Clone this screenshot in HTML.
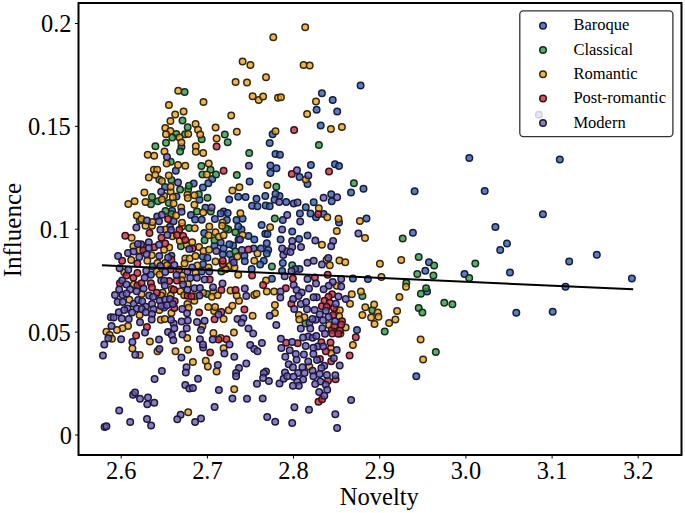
<!DOCTYPE html>
<html><head><meta charset="utf-8"><style>
html,body{margin:0;padding:0;background:#fff;}
svg{display:block;font-family:"Liberation Serif",serif;}
.B{fill:#375CAE;fill-opacity:0.8;stroke:#141e3c;}
.C{fill:#37954A;fill-opacity:0.8;stroke:#142d19;}
.R{fill:#E6A42B;fill-opacity:0.8;stroke:#37280a;}
.P{fill:#C03144;fill-opacity:0.8;stroke:#370f14;}
.M{fill:#695CB4;fill-opacity:0.8;stroke:#1e193c;}
</style></head><body>
<svg width="685" height="513" viewBox="0 0 685 513">
<rect width="685" height="513" fill="#fff"/>
<g stroke-width="1.5">
<circle class="B" cx="181.4" cy="146.9" r="3.25"/>
<circle class="B" cx="272.6" cy="134.2" r="3.25"/>
<circle class="B" cx="269.7" cy="143.0" r="3.25"/>
<circle class="B" cx="360.6" cy="85.5" r="3.25"/>
<circle class="B" cx="321.9" cy="93.3" r="3.25"/>
<circle class="B" cx="332.7" cy="99.9" r="3.25"/>
<circle class="B" cx="316.6" cy="109.8" r="3.25"/>
<circle class="B" cx="337.2" cy="111.5" r="3.25"/>
<circle class="B" cx="320.7" cy="125.4" r="3.25"/>
<circle class="B" cx="275.5" cy="154.1" r="3.25"/>
<circle class="B" cx="279.9" cy="154.7" r="3.25"/>
<circle class="B" cx="270.4" cy="165.4" r="3.25"/>
<circle class="B" cx="276.5" cy="168.3" r="3.25"/>
<circle class="B" cx="270.4" cy="173.1" r="3.25"/>
<circle class="B" cx="212.2" cy="178.9" r="3.25"/>
<circle class="B" cx="208.3" cy="183.3" r="3.25"/>
<circle class="B" cx="202.9" cy="187.6" r="3.25"/>
<circle class="B" cx="193.7" cy="183.6" r="3.25"/>
<circle class="B" cx="249.6" cy="181.4" r="3.25"/>
<circle class="B" cx="229.2" cy="199.4" r="3.25"/>
<circle class="B" cx="238.2" cy="196.8" r="3.25"/>
<circle class="B" cx="245.6" cy="197.1" r="3.25"/>
<circle class="B" cx="256.5" cy="198.7" r="3.25"/>
<circle class="B" cx="265.3" cy="196.1" r="3.25"/>
<circle class="B" cx="279.5" cy="196.1" r="3.25"/>
<circle class="B" cx="275.5" cy="193.9" r="3.25"/>
<circle class="B" cx="274.5" cy="199.7" r="3.25"/>
<circle class="B" cx="286.2" cy="201.9" r="3.25"/>
<circle class="B" cx="199.5" cy="199.7" r="3.25"/>
<circle class="B" cx="205.4" cy="207.7" r="3.25"/>
<circle class="B" cx="190.9" cy="214.9" r="3.25"/>
<circle class="B" cx="195.1" cy="219.4" r="3.25"/>
<circle class="B" cx="201.7" cy="219.7" r="3.25"/>
<circle class="B" cx="223.6" cy="211.4" r="3.25"/>
<circle class="B" cx="220.7" cy="213.6" r="3.25"/>
<circle class="B" cx="227.7" cy="212.9" r="3.25"/>
<circle class="B" cx="252.1" cy="205.8" r="3.25"/>
<circle class="B" cx="257.5" cy="206.3" r="3.25"/>
<circle class="B" cx="265.7" cy="205.6" r="3.25"/>
<circle class="B" cx="269.7" cy="206.3" r="3.25"/>
<circle class="B" cx="214.9" cy="219.0" r="3.25"/>
<circle class="B" cx="226.8" cy="219.9" r="3.25"/>
<circle class="B" cx="236.5" cy="219.9" r="3.25"/>
<circle class="B" cx="242.6" cy="218.7" r="3.25"/>
<circle class="B" cx="282.8" cy="219.9" r="3.25"/>
<circle class="B" cx="261.6" cy="225.1" r="3.25"/>
<circle class="B" cx="310.9" cy="165.1" r="3.25"/>
<circle class="B" cx="335.0" cy="164.2" r="3.25"/>
<circle class="B" cx="339.0" cy="166.1" r="3.25"/>
<circle class="B" cx="299.5" cy="177.0" r="3.25"/>
<circle class="B" cx="307.5" cy="183.9" r="3.25"/>
<circle class="B" cx="351.0" cy="192.4" r="3.25"/>
<circle class="B" cx="363.5" cy="188.7" r="3.25"/>
<circle class="B" cx="331.2" cy="194.2" r="3.25"/>
<circle class="B" cx="331.7" cy="201.2" r="3.25"/>
<circle class="B" cx="293.7" cy="203.4" r="3.25"/>
<circle class="B" cx="313.7" cy="202.2" r="3.25"/>
<circle class="B" cx="305.8" cy="207.3" r="3.25"/>
<circle class="B" cx="299.9" cy="213.6" r="3.25"/>
<circle class="B" cx="310.5" cy="213.6" r="3.25"/>
<circle class="B" cx="316.0" cy="217.3" r="3.25"/>
<circle class="B" cx="323.6" cy="214.0" r="3.25"/>
<circle class="B" cx="339.0" cy="222.4" r="3.25"/>
<circle class="B" cx="366.5" cy="218.4" r="3.25"/>
<circle class="B" cx="241.5" cy="229.4" r="3.25"/>
<circle class="B" cx="248.5" cy="236.0" r="3.25"/>
<circle class="B" cx="254.3" cy="239.6" r="3.25"/>
<circle class="B" cx="265.3" cy="233.8" r="3.25"/>
<circle class="B" cx="267.5" cy="234.1" r="3.25"/>
<circle class="B" cx="280.6" cy="239.6" r="3.25"/>
<circle class="B" cx="244.4" cy="255.7" r="3.25"/>
<circle class="B" cx="253.6" cy="248.4" r="3.25"/>
<circle class="B" cx="260.9" cy="248.4" r="3.25"/>
<circle class="B" cx="266.8" cy="243.3" r="3.25"/>
<circle class="B" cx="268.2" cy="249.9" r="3.25"/>
<circle class="B" cx="266.8" cy="253.5" r="3.25"/>
<circle class="B" cx="244.8" cy="261.3" r="3.25"/>
<circle class="B" cx="263.8" cy="260.8" r="3.25"/>
<circle class="B" cx="260.2" cy="264.5" r="3.25"/>
<circle class="B" cx="282.8" cy="263.0" r="3.25"/>
<circle class="B" cx="251.7" cy="268.9" r="3.25"/>
<circle class="B" cx="282.1" cy="271.1" r="3.25"/>
<circle class="B" cx="271.9" cy="278.8" r="3.25"/>
<circle class="B" cx="292.2" cy="231.6" r="3.25"/>
<circle class="B" cx="299.1" cy="238.9" r="3.25"/>
<circle class="B" cx="307.5" cy="235.5" r="3.25"/>
<circle class="B" cx="299.5" cy="268.9" r="3.25"/>
<circle class="B" cx="352.9" cy="278.4" r="3.25"/>
<circle class="B" cx="367.9" cy="279.1" r="3.25"/>
<circle class="B" cx="469.3" cy="158.0" r="3.25"/>
<circle class="B" cx="414.6" cy="191.3" r="3.25"/>
<circle class="B" cx="484.7" cy="190.9" r="3.25"/>
<circle class="B" cx="412.9" cy="232.7" r="3.25"/>
<circle class="B" cx="429.0" cy="262.3" r="3.25"/>
<circle class="B" cx="425.3" cy="270.7" r="3.25"/>
<circle class="B" cx="464.5" cy="274.0" r="3.25"/>
<circle class="B" cx="427.1" cy="291.6" r="3.25"/>
<circle class="B" cx="416.3" cy="376.3" r="3.25"/>
<circle class="B" cx="542.9" cy="214.3" r="3.25"/>
<circle class="B" cx="495.4" cy="227.0" r="3.25"/>
<circle class="B" cx="507.0" cy="243.6" r="3.25"/>
<circle class="B" cx="500.2" cy="250.1" r="3.25"/>
<circle class="B" cx="569.2" cy="261.4" r="3.25"/>
<circle class="B" cx="510.0" cy="272.4" r="3.25"/>
<circle class="B" cx="565.5" cy="286.7" r="3.25"/>
<circle class="B" cx="516.3" cy="312.7" r="3.25"/>
<circle class="B" cx="552.7" cy="311.8" r="3.25"/>
<circle class="B" cx="559.8" cy="159.6" r="3.25"/>
<circle class="B" cx="596.8" cy="254.7" r="3.25"/>
<circle class="B" cx="631.9" cy="278.4" r="3.25"/>
<circle class="B" cx="169.9" cy="226.8" r="3.25"/>
<circle class="B" cx="171.4" cy="255.7" r="3.25"/>
<circle class="B" cx="152.8" cy="266.4" r="3.25"/>
<circle class="B" cx="150.9" cy="274.8" r="3.25"/>
<circle class="B" cx="165.0" cy="187.1" r="3.25"/>
<circle class="B" cx="176.5" cy="196.5" r="3.25"/>
<circle class="B" cx="157.2" cy="216.6" r="3.25"/>
<circle class="B" cx="172.1" cy="210.7" r="3.25"/>
<circle class="B" cx="173.6" cy="221.3" r="3.25"/>
<circle class="B" cx="175.8" cy="170.8" r="3.25"/>
<circle class="B" cx="357.0" cy="330.0" r="3.25"/>
<circle class="B" cx="203.1" cy="264.2" r="3.25"/>
<circle class="B" cx="201.7" cy="271.5" r="3.25"/>
<circle class="B" cx="238.2" cy="226.5" r="3.25"/>
<circle class="B" cx="204.2" cy="233.0" r="3.25"/>
<circle class="B" cx="220.7" cy="242.5" r="3.25"/>
<circle class="B" cx="233.1" cy="245.4" r="3.25"/>
<circle class="B" cx="229.4" cy="244.3" r="3.25"/>
<circle class="B" cx="238.5" cy="239.6" r="3.25"/>
<circle class="B" cx="214.5" cy="245.8" r="3.25"/>
<circle class="B" cx="222.8" cy="254.2" r="3.25"/>
<circle class="B" cx="223.6" cy="248.4" r="3.25"/>
<circle class="B" cx="229.8" cy="254.2" r="3.25"/>
<circle class="B" cx="202.8" cy="256.4" r="3.25"/>
<circle class="B" cx="207.5" cy="257.8" r="3.25"/>
<circle class="B" cx="232.3" cy="260.0" r="3.25"/>
<circle class="C" cx="184.6" cy="92.1" r="3.25"/>
<circle class="C" cx="182.5" cy="120.6" r="3.25"/>
<circle class="C" cx="187.7" cy="127.3" r="3.25"/>
<circle class="C" cx="176.3" cy="133.9" r="3.25"/>
<circle class="C" cx="172.3" cy="137.6" r="3.25"/>
<circle class="C" cx="185.0" cy="134.2" r="3.25"/>
<circle class="C" cx="166.0" cy="142.7" r="3.25"/>
<circle class="C" cx="155.4" cy="146.2" r="3.25"/>
<circle class="C" cx="201.7" cy="139.3" r="3.25"/>
<circle class="C" cx="224.8" cy="134.6" r="3.25"/>
<circle class="C" cx="227.7" cy="142.3" r="3.25"/>
<circle class="C" cx="318.9" cy="144.9" r="3.25"/>
<circle class="C" cx="249.2" cy="152.9" r="3.25"/>
<circle class="C" cx="201.4" cy="166.1" r="3.25"/>
<circle class="C" cx="210.5" cy="169.7" r="3.25"/>
<circle class="C" cx="202.4" cy="174.6" r="3.25"/>
<circle class="C" cx="216.0" cy="174.6" r="3.25"/>
<circle class="C" cx="236.8" cy="174.9" r="3.25"/>
<circle class="C" cx="276.3" cy="186.8" r="3.25"/>
<circle class="C" cx="198.8" cy="194.2" r="3.25"/>
<circle class="C" cx="207.5" cy="197.8" r="3.25"/>
<circle class="C" cx="210.8" cy="211.4" r="3.25"/>
<circle class="C" cx="197.0" cy="211.4" r="3.25"/>
<circle class="C" cx="274.8" cy="218.4" r="3.25"/>
<circle class="C" cx="353.9" cy="183.2" r="3.25"/>
<circle class="C" cx="271.9" cy="266.4" r="3.25"/>
<circle class="C" cx="292.2" cy="265.2" r="3.25"/>
<circle class="C" cx="384.7" cy="331.4" r="3.25"/>
<circle class="C" cx="372.3" cy="310.2" r="3.25"/>
<circle class="C" cx="402.7" cy="238.5" r="3.25"/>
<circle class="C" cx="418.7" cy="257.1" r="3.25"/>
<circle class="C" cx="434.1" cy="265.6" r="3.25"/>
<circle class="C" cx="417.3" cy="273.9" r="3.25"/>
<circle class="C" cx="433.4" cy="275.5" r="3.25"/>
<circle class="C" cx="469.2" cy="278.0" r="3.25"/>
<circle class="C" cx="475.3" cy="263.4" r="3.25"/>
<circle class="C" cx="406.3" cy="283.1" r="3.25"/>
<circle class="C" cx="426.1" cy="288.2" r="3.25"/>
<circle class="C" cx="420.9" cy="293.8" r="3.25"/>
<circle class="C" cx="444.3" cy="302.8" r="3.25"/>
<circle class="C" cx="452.4" cy="304.3" r="3.25"/>
<circle class="C" cx="418.7" cy="308.1" r="3.25"/>
<circle class="C" cx="422.4" cy="312.5" r="3.25"/>
<circle class="C" cx="435.8" cy="352.0" r="3.25"/>
<circle class="C" cx="189.1" cy="227.9" r="3.25"/>
<circle class="C" cx="180.9" cy="246.2" r="3.25"/>
<circle class="C" cx="152.0" cy="196.9" r="3.25"/>
<circle class="C" cx="150.9" cy="204.2" r="3.25"/>
<circle class="C" cx="157.9" cy="201.2" r="3.25"/>
<circle class="C" cx="168.8" cy="203.1" r="3.25"/>
<circle class="C" cx="180.1" cy="189.6" r="3.25"/>
<circle class="C" cx="188.2" cy="189.2" r="3.25"/>
<circle class="C" cx="165.5" cy="211.1" r="3.25"/>
<circle class="C" cx="171.4" cy="214.0" r="3.25"/>
<circle class="C" cx="139.6" cy="220.6" r="3.25"/>
<circle class="C" cx="170.7" cy="161.7" r="3.25"/>
<circle class="C" cx="180.1" cy="151.5" r="3.25"/>
<circle class="C" cx="159.3" cy="179.6" r="3.25"/>
<circle class="C" cx="171.4" cy="179.9" r="3.25"/>
<circle class="C" cx="188.9" cy="185.8" r="3.25"/>
<circle class="C" cx="362.4" cy="296.1" r="3.25"/>
<circle class="C" cx="305.5" cy="323.5" r="3.25"/>
<circle class="C" cx="221.4" cy="271.5" r="3.25"/>
<circle class="C" cx="207.2" cy="294.1" r="3.25"/>
<circle class="C" cx="228.3" cy="229.4" r="3.25"/>
<circle class="C" cx="225.8" cy="228.3" r="3.25"/>
<circle class="C" cx="235.3" cy="232.3" r="3.25"/>
<circle class="C" cx="204.6" cy="240.3" r="3.25"/>
<circle class="C" cx="214.5" cy="240.3" r="3.25"/>
<circle class="C" cx="235.3" cy="251.6" r="3.25"/>
<circle class="R" cx="273.3" cy="37.3" r="3.25"/>
<circle class="R" cx="242.6" cy="61.4" r="3.25"/>
<circle class="R" cx="250.4" cy="65.1" r="3.25"/>
<circle class="R" cx="305.2" cy="27.3" r="3.25"/>
<circle class="R" cx="303.6" cy="65.1" r="3.25"/>
<circle class="R" cx="309.7" cy="65.5" r="3.25"/>
<circle class="R" cx="178.2" cy="90.8" r="3.25"/>
<circle class="R" cx="168.9" cy="105.0" r="3.25"/>
<circle class="R" cx="183.6" cy="111.5" r="3.25"/>
<circle class="R" cx="175.2" cy="114.5" r="3.25"/>
<circle class="R" cx="170.4" cy="121.1" r="3.25"/>
<circle class="R" cx="165.3" cy="127.9" r="3.25"/>
<circle class="R" cx="170.4" cy="131.0" r="3.25"/>
<circle class="R" cx="166.0" cy="134.2" r="3.25"/>
<circle class="R" cx="179.5" cy="137.6" r="3.25"/>
<circle class="R" cx="188.2" cy="133.9" r="3.25"/>
<circle class="R" cx="181.4" cy="142.5" r="3.25"/>
<circle class="R" cx="266.0" cy="77.2" r="3.25"/>
<circle class="R" cx="235.6" cy="82.0" r="3.25"/>
<circle class="R" cx="247.0" cy="82.6" r="3.25"/>
<circle class="R" cx="203.5" cy="102.0" r="3.25"/>
<circle class="R" cx="252.6" cy="96.2" r="3.25"/>
<circle class="R" cx="258.7" cy="99.9" r="3.25"/>
<circle class="R" cx="263.1" cy="96.6" r="3.25"/>
<circle class="R" cx="278.0" cy="97.7" r="3.25"/>
<circle class="R" cx="280.9" cy="97.2" r="3.25"/>
<circle class="R" cx="231.2" cy="115.5" r="3.25"/>
<circle class="R" cx="195.6" cy="124.0" r="3.25"/>
<circle class="R" cx="198.0" cy="129.8" r="3.25"/>
<circle class="R" cx="200.2" cy="134.6" r="3.25"/>
<circle class="R" cx="215.6" cy="127.6" r="3.25"/>
<circle class="R" cx="236.8" cy="131.7" r="3.25"/>
<circle class="R" cx="216.6" cy="138.6" r="3.25"/>
<circle class="R" cx="195.8" cy="146.3" r="3.25"/>
<circle class="R" cx="275.5" cy="131.3" r="3.25"/>
<circle class="R" cx="316.0" cy="101.6" r="3.25"/>
<circle class="R" cx="307.1" cy="114.0" r="3.25"/>
<circle class="R" cx="330.9" cy="129.1" r="3.25"/>
<circle class="R" cx="341.9" cy="126.9" r="3.25"/>
<circle class="R" cx="134.6" cy="201.2" r="3.25"/>
<circle class="R" cx="128.3" cy="204.1" r="3.25"/>
<circle class="R" cx="136.8" cy="215.5" r="3.25"/>
<circle class="R" cx="195.8" cy="151.8" r="3.25"/>
<circle class="R" cx="203.2" cy="152.9" r="3.25"/>
<circle class="R" cx="208.7" cy="163.6" r="3.25"/>
<circle class="R" cx="206.8" cy="174.6" r="3.25"/>
<circle class="R" cx="267.5" cy="185.1" r="3.25"/>
<circle class="R" cx="232.4" cy="190.6" r="3.25"/>
<circle class="R" cx="239.4" cy="187.3" r="3.25"/>
<circle class="R" cx="194.4" cy="195.3" r="3.25"/>
<circle class="R" cx="194.4" cy="204.8" r="3.25"/>
<circle class="R" cx="203.2" cy="212.6" r="3.25"/>
<circle class="R" cx="240.4" cy="213.2" r="3.25"/>
<circle class="R" cx="222.5" cy="222.4" r="3.25"/>
<circle class="R" cx="305.8" cy="179.5" r="3.25"/>
<circle class="R" cx="318.8" cy="208.2" r="3.25"/>
<circle class="R" cx="327.3" cy="217.3" r="3.25"/>
<circle class="R" cx="338.5" cy="218.7" r="3.25"/>
<circle class="R" cx="359.9" cy="220.9" r="3.25"/>
<circle class="R" cx="242.6" cy="234.9" r="3.25"/>
<circle class="R" cx="270.1" cy="227.2" r="3.25"/>
<circle class="R" cx="257.5" cy="253.5" r="3.25"/>
<circle class="R" cx="254.3" cy="260.8" r="3.25"/>
<circle class="R" cx="266.0" cy="280.6" r="3.25"/>
<circle class="R" cx="266.8" cy="291.5" r="3.25"/>
<circle class="R" cx="274.1" cy="291.5" r="3.25"/>
<circle class="R" cx="254.3" cy="294.9" r="3.25"/>
<circle class="R" cx="256.5" cy="293.7" r="3.25"/>
<circle class="R" cx="321.9" cy="244.7" r="3.25"/>
<circle class="R" cx="336.8" cy="231.1" r="3.25"/>
<circle class="R" cx="365.0" cy="237.9" r="3.25"/>
<circle class="R" cx="326.5" cy="260.1" r="3.25"/>
<circle class="R" cx="329.8" cy="265.2" r="3.25"/>
<circle class="R" cx="339.4" cy="260.5" r="3.25"/>
<circle class="R" cx="345.3" cy="262.3" r="3.25"/>
<circle class="R" cx="379.9" cy="263.7" r="3.25"/>
<circle class="R" cx="381.4" cy="276.9" r="3.25"/>
<circle class="R" cx="336.8" cy="285.7" r="3.25"/>
<circle class="R" cx="351.8" cy="294.2" r="3.25"/>
<circle class="R" cx="360.9" cy="291.5" r="3.25"/>
<circle class="R" cx="106.4" cy="331.8" r="3.25"/>
<circle class="R" cx="109.7" cy="335.1" r="3.25"/>
<circle class="R" cx="111.9" cy="338.7" r="3.25"/>
<circle class="R" cx="132.4" cy="348.5" r="3.25"/>
<circle class="R" cx="139.7" cy="355.1" r="3.25"/>
<circle class="R" cx="149.9" cy="341.4" r="3.25"/>
<circle class="R" cx="187.2" cy="338.0" r="3.25"/>
<circle class="R" cx="157.5" cy="351.2" r="3.25"/>
<circle class="R" cx="175.5" cy="351.2" r="3.25"/>
<circle class="R" cx="188.0" cy="349.7" r="3.25"/>
<circle class="R" cx="194.4" cy="300.7" r="3.25"/>
<circle class="R" cx="208.3" cy="307.0" r="3.25"/>
<circle class="R" cx="214.1" cy="311.0" r="3.25"/>
<circle class="R" cx="215.1" cy="307.0" r="3.25"/>
<circle class="R" cx="223.6" cy="319.0" r="3.25"/>
<circle class="R" cx="228.7" cy="310.2" r="3.25"/>
<circle class="R" cx="232.4" cy="305.8" r="3.25"/>
<circle class="R" cx="239.0" cy="300.7" r="3.25"/>
<circle class="R" cx="252.6" cy="315.8" r="3.25"/>
<circle class="R" cx="202.4" cy="326.3" r="3.25"/>
<circle class="R" cx="213.4" cy="332.9" r="3.25"/>
<circle class="R" cx="220.7" cy="338.0" r="3.25"/>
<circle class="R" cx="233.9" cy="332.5" r="3.25"/>
<circle class="R" cx="223.6" cy="348.2" r="3.25"/>
<circle class="R" cx="205.8" cy="360.7" r="3.25"/>
<circle class="R" cx="207.8" cy="366.5" r="3.25"/>
<circle class="R" cx="216.6" cy="371.6" r="3.25"/>
<circle class="R" cx="192.9" cy="362.1" r="3.25"/>
<circle class="R" cx="340.4" cy="333.6" r="3.25"/>
<circle class="R" cx="352.9" cy="345.0" r="3.25"/>
<circle class="R" cx="389.1" cy="323.1" r="3.25"/>
<circle class="R" cx="365.3" cy="307.3" r="3.25"/>
<circle class="R" cx="374.1" cy="304.4" r="3.25"/>
<circle class="R" cx="377.7" cy="312.4" r="3.25"/>
<circle class="R" cx="371.1" cy="317.5" r="3.25"/>
<circle class="R" cx="378.5" cy="316.8" r="3.25"/>
<circle class="R" cx="374.5" cy="324.1" r="3.25"/>
<circle class="R" cx="188.2" cy="412.3" r="3.25"/>
<circle class="R" cx="234.2" cy="389.3" r="3.25"/>
<circle class="R" cx="401.2" cy="260.0" r="3.25"/>
<circle class="R" cx="406.0" cy="286.8" r="3.25"/>
<circle class="R" cx="399.4" cy="297.0" r="3.25"/>
<circle class="R" cx="397.1" cy="311.0" r="3.25"/>
<circle class="R" cx="395.4" cy="319.4" r="3.25"/>
<circle class="R" cx="420.6" cy="339.4" r="3.25"/>
<circle class="R" cx="423.1" cy="359.6" r="3.25"/>
<circle class="R" cx="145.5" cy="225.7" r="3.25"/>
<circle class="R" cx="152.0" cy="225.7" r="3.25"/>
<circle class="R" cx="165.5" cy="229.4" r="3.25"/>
<circle class="R" cx="172.5" cy="236.3" r="3.25"/>
<circle class="R" cx="182.0" cy="226.5" r="3.25"/>
<circle class="R" cx="179.8" cy="240.7" r="3.25"/>
<circle class="R" cx="186.7" cy="244.7" r="3.25"/>
<circle class="R" cx="142.9" cy="246.2" r="3.25"/>
<circle class="R" cx="169.2" cy="247.6" r="3.25"/>
<circle class="R" cx="164.1" cy="249.8" r="3.25"/>
<circle class="R" cx="151.7" cy="255.3" r="3.25"/>
<circle class="R" cx="147.3" cy="260.8" r="3.25"/>
<circle class="R" cx="185.3" cy="258.6" r="3.25"/>
<circle class="R" cx="189.6" cy="258.6" r="3.25"/>
<circle class="R" cx="131.6" cy="237.8" r="3.25"/>
<circle class="R" cx="133.4" cy="246.2" r="3.25"/>
<circle class="R" cx="131.2" cy="259.9" r="3.25"/>
<circle class="R" cx="139.3" cy="250.2" r="3.25"/>
<circle class="R" cx="124.3" cy="272.2" r="3.25"/>
<circle class="R" cx="133.8" cy="284.6" r="3.25"/>
<circle class="R" cx="157.5" cy="263.1" r="3.25"/>
<circle class="R" cx="165.2" cy="263.1" r="3.25"/>
<circle class="R" cx="167.0" cy="265.3" r="3.25"/>
<circle class="R" cx="184.5" cy="263.5" r="3.25"/>
<circle class="R" cx="156.8" cy="271.5" r="3.25"/>
<circle class="R" cx="159.7" cy="274.4" r="3.25"/>
<circle class="R" cx="182.3" cy="275.5" r="3.25"/>
<circle class="R" cx="181.6" cy="280.2" r="3.25"/>
<circle class="R" cx="187.8" cy="283.9" r="3.25"/>
<circle class="R" cx="141.5" cy="294.1" r="3.25"/>
<circle class="R" cx="162.6" cy="292.7" r="3.25"/>
<circle class="R" cx="171.8" cy="289.0" r="3.25"/>
<circle class="R" cx="180.5" cy="291.2" r="3.25"/>
<circle class="R" cx="184.2" cy="295.3" r="3.25"/>
<circle class="R" cx="144.4" cy="192.5" r="3.25"/>
<circle class="R" cx="145.5" cy="202.0" r="3.25"/>
<circle class="R" cx="164.1" cy="196.1" r="3.25"/>
<circle class="R" cx="161.9" cy="199.4" r="3.25"/>
<circle class="R" cx="170.7" cy="191.4" r="3.25"/>
<circle class="R" cx="170.7" cy="186.7" r="3.25"/>
<circle class="R" cx="172.8" cy="197.2" r="3.25"/>
<circle class="R" cx="173.6" cy="203.4" r="3.25"/>
<circle class="R" cx="187.4" cy="194.7" r="3.25"/>
<circle class="R" cx="187.8" cy="197.9" r="3.25"/>
<circle class="R" cx="176.1" cy="215.5" r="3.25"/>
<circle class="R" cx="181.2" cy="207.4" r="3.25"/>
<circle class="R" cx="152.4" cy="222.0" r="3.25"/>
<circle class="R" cx="141.5" cy="219.1" r="3.25"/>
<circle class="R" cx="182.0" cy="222.8" r="3.25"/>
<circle class="R" cx="147.7" cy="154.7" r="3.25"/>
<circle class="R" cx="154.2" cy="155.8" r="3.25"/>
<circle class="R" cx="164.5" cy="151.5" r="3.25"/>
<circle class="R" cx="166.6" cy="163.5" r="3.25"/>
<circle class="R" cx="178.0" cy="165.0" r="3.25"/>
<circle class="R" cx="185.3" cy="165.7" r="3.25"/>
<circle class="R" cx="153.9" cy="169.7" r="3.25"/>
<circle class="R" cx="157.2" cy="169.7" r="3.25"/>
<circle class="R" cx="155.3" cy="174.8" r="3.25"/>
<circle class="R" cx="148.8" cy="177.4" r="3.25"/>
<circle class="R" cx="168.8" cy="175.5" r="3.25"/>
<circle class="R" cx="161.9" cy="181.0" r="3.25"/>
<circle class="R" cx="350.0" cy="303.8" r="3.25"/>
<circle class="R" cx="336.2" cy="311.4" r="3.25"/>
<circle class="R" cx="339.8" cy="310.3" r="3.25"/>
<circle class="R" cx="362.4" cy="315.1" r="3.25"/>
<circle class="R" cx="339.1" cy="316.2" r="3.25"/>
<circle class="R" cx="329.2" cy="324.9" r="3.25"/>
<circle class="R" cx="345.7" cy="327.5" r="3.25"/>
<circle class="R" cx="330.9" cy="348.4" r="3.25"/>
<circle class="R" cx="331.2" cy="353.2" r="3.25"/>
<circle class="R" cx="274.9" cy="304.9" r="3.25"/>
<circle class="R" cx="274.9" cy="312.9" r="3.25"/>
<circle class="R" cx="298.9" cy="315.1" r="3.25"/>
<circle class="R" cx="304.4" cy="317.3" r="3.25"/>
<circle class="R" cx="299.3" cy="319.5" r="3.25"/>
<circle class="R" cx="129.4" cy="299.7" r="3.25"/>
<circle class="R" cx="139.6" cy="314.9" r="3.25"/>
<circle class="R" cx="128.0" cy="326.0" r="3.25"/>
<circle class="R" cx="122.5" cy="328.2" r="3.25"/>
<circle class="R" cx="117.0" cy="330.0" r="3.25"/>
<circle class="R" cx="161.2" cy="295.4" r="3.25"/>
<circle class="R" cx="170.7" cy="295.4" r="3.25"/>
<circle class="R" cx="159.3" cy="310.0" r="3.25"/>
<circle class="R" cx="171.4" cy="312.9" r="3.25"/>
<circle class="R" cx="160.8" cy="319.8" r="3.25"/>
<circle class="R" cx="164.8" cy="319.1" r="3.25"/>
<circle class="R" cx="187.4" cy="304.1" r="3.25"/>
<circle class="R" cx="188.5" cy="307.8" r="3.25"/>
<circle class="R" cx="309.3" cy="366.5" r="3.25"/>
<circle class="R" cx="197.3" cy="265.6" r="3.25"/>
<circle class="R" cx="208.6" cy="267.5" r="3.25"/>
<circle class="R" cx="195.5" cy="272.6" r="3.25"/>
<circle class="R" cx="215.5" cy="261.4" r="3.25"/>
<circle class="R" cx="229.8" cy="266.0" r="3.25"/>
<circle class="R" cx="234.5" cy="267.5" r="3.25"/>
<circle class="R" cx="225.8" cy="269.3" r="3.25"/>
<circle class="R" cx="238.2" cy="274.8" r="3.25"/>
<circle class="R" cx="213.4" cy="291.9" r="3.25"/>
<circle class="R" cx="203.1" cy="292.7" r="3.25"/>
<circle class="R" cx="194.4" cy="296.3" r="3.25"/>
<circle class="R" cx="211.9" cy="296.7" r="3.25"/>
<circle class="R" cx="217.7" cy="295.2" r="3.25"/>
<circle class="R" cx="230.5" cy="290.5" r="3.25"/>
<circle class="R" cx="236.7" cy="295.6" r="3.25"/>
<circle class="R" cx="194.7" cy="228.3" r="3.25"/>
<circle class="R" cx="209.3" cy="226.5" r="3.25"/>
<circle class="R" cx="222.1" cy="225.7" r="3.25"/>
<circle class="R" cx="208.6" cy="235.2" r="3.25"/>
<circle class="R" cx="215.5" cy="232.3" r="3.25"/>
<circle class="R" cx="218.8" cy="236.7" r="3.25"/>
<circle class="R" cx="223.6" cy="235.2" r="3.25"/>
<circle class="R" cx="192.2" cy="242.2" r="3.25"/>
<circle class="R" cx="199.1" cy="246.9" r="3.25"/>
<circle class="R" cx="203.5" cy="250.9" r="3.25"/>
<circle class="R" cx="209.0" cy="249.8" r="3.25"/>
<circle class="R" cx="237.4" cy="256.4" r="3.25"/>
<circle class="R" cx="195.5" cy="256.0" r="3.25"/>
<circle class="P" cx="216.6" cy="146.6" r="3.25"/>
<circle class="P" cx="294.1" cy="130.1" r="3.25"/>
<circle class="P" cx="223.6" cy="170.8" r="3.25"/>
<circle class="P" cx="329.0" cy="171.6" r="3.25"/>
<circle class="P" cx="291.8" cy="174.1" r="3.25"/>
<circle class="P" cx="318.2" cy="214.3" r="3.25"/>
<circle class="P" cx="248.5" cy="249.6" r="3.25"/>
<circle class="P" cx="252.1" cy="275.4" r="3.25"/>
<circle class="P" cx="263.1" cy="284.9" r="3.25"/>
<circle class="P" cx="285.8" cy="288.3" r="3.25"/>
<circle class="P" cx="327.7" cy="274.7" r="3.25"/>
<circle class="P" cx="292.9" cy="278.4" r="3.25"/>
<circle class="P" cx="314.9" cy="277.6" r="3.25"/>
<circle class="P" cx="332.1" cy="294.2" r="3.25"/>
<circle class="P" cx="136.1" cy="335.5" r="3.25"/>
<circle class="P" cx="199.1" cy="312.4" r="3.25"/>
<circle class="P" cx="221.4" cy="312.0" r="3.25"/>
<circle class="P" cx="214.6" cy="319.3" r="3.25"/>
<circle class="P" cx="244.4" cy="309.5" r="3.25"/>
<circle class="P" cx="218.5" cy="339.5" r="3.25"/>
<circle class="P" cx="226.5" cy="339.2" r="3.25"/>
<circle class="P" cx="210.2" cy="352.6" r="3.25"/>
<circle class="P" cx="286.2" cy="342.7" r="3.25"/>
<circle class="P" cx="355.8" cy="337.3" r="3.25"/>
<circle class="P" cx="349.6" cy="355.6" r="3.25"/>
<circle class="P" cx="318.5" cy="401.8" r="3.25"/>
<circle class="P" cx="149.5" cy="233.0" r="3.25"/>
<circle class="P" cx="161.5" cy="237.8" r="3.25"/>
<circle class="P" cx="179.4" cy="229.7" r="3.25"/>
<circle class="P" cx="176.9" cy="234.9" r="3.25"/>
<circle class="P" cx="183.1" cy="235.9" r="3.25"/>
<circle class="P" cx="185.3" cy="240.0" r="3.25"/>
<circle class="P" cx="143.3" cy="250.2" r="3.25"/>
<circle class="P" cx="154.2" cy="247.3" r="3.25"/>
<circle class="P" cx="165.2" cy="243.6" r="3.25"/>
<circle class="P" cx="171.4" cy="259.7" r="3.25"/>
<circle class="P" cx="125.3" cy="235.8" r="3.25"/>
<circle class="P" cx="122.1" cy="260.8" r="3.25"/>
<circle class="P" cx="137.4" cy="263.5" r="3.25"/>
<circle class="P" cx="126.5" cy="275.5" r="3.25"/>
<circle class="P" cx="133.4" cy="277.7" r="3.25"/>
<circle class="P" cx="137.4" cy="272.9" r="3.25"/>
<circle class="P" cx="119.9" cy="283.2" r="3.25"/>
<circle class="P" cx="137.4" cy="285.4" r="3.25"/>
<circle class="P" cx="170.7" cy="269.3" r="3.25"/>
<circle class="P" cx="179.1" cy="269.7" r="3.25"/>
<circle class="P" cx="141.5" cy="283.2" r="3.25"/>
<circle class="P" cx="150.9" cy="283.2" r="3.25"/>
<circle class="P" cx="152.0" cy="287.5" r="3.25"/>
<circle class="P" cx="169.2" cy="281.0" r="3.25"/>
<circle class="P" cx="176.9" cy="280.6" r="3.25"/>
<circle class="P" cx="156.8" cy="292.7" r="3.25"/>
<circle class="P" cx="173.9" cy="289.7" r="3.25"/>
<circle class="P" cx="187.6" cy="295.8" r="3.25"/>
<circle class="P" cx="168.1" cy="219.1" r="3.25"/>
<circle class="P" cx="328.5" cy="296.8" r="3.25"/>
<circle class="P" cx="324.5" cy="300.8" r="3.25"/>
<circle class="P" cx="329.6" cy="302.7" r="3.25"/>
<circle class="P" cx="321.9" cy="306.3" r="3.25"/>
<circle class="P" cx="326.7" cy="306.7" r="3.25"/>
<circle class="P" cx="334.0" cy="308.1" r="3.25"/>
<circle class="P" cx="333.2" cy="315.1" r="3.25"/>
<circle class="P" cx="342.0" cy="321.3" r="3.25"/>
<circle class="P" cx="341.3" cy="324.6" r="3.25"/>
<circle class="P" cx="331.8" cy="330.0" r="3.25"/>
<circle class="P" cx="339.8" cy="330.8" r="3.25"/>
<circle class="P" cx="334.3" cy="325.7" r="3.25"/>
<circle class="P" cx="332.3" cy="333.5" r="3.25"/>
<circle class="P" cx="338.2" cy="333.8" r="3.25"/>
<circle class="P" cx="297.7" cy="343.3" r="3.25"/>
<circle class="P" cx="321.4" cy="342.2" r="3.25"/>
<circle class="P" cx="330.5" cy="342.6" r="3.25"/>
<circle class="P" cx="325.8" cy="351.3" r="3.25"/>
<circle class="P" cx="319.9" cy="359.0" r="3.25"/>
<circle class="P" cx="331.2" cy="361.2" r="3.25"/>
<circle class="P" cx="291.3" cy="303.8" r="3.25"/>
<circle class="P" cx="174.7" cy="301.2" r="3.25"/>
<circle class="P" cx="174.3" cy="308.1" r="3.25"/>
<circle class="P" cx="146.9" cy="327.1" r="3.25"/>
<circle class="P" cx="328.0" cy="380.7" r="3.25"/>
<circle class="P" cx="335.6" cy="379.2" r="3.25"/>
<circle class="P" cx="322.1" cy="399.3" r="3.25"/>
<circle class="P" cx="222.8" cy="264.2" r="3.25"/>
<circle class="P" cx="209.7" cy="279.5" r="3.25"/>
<circle class="P" cx="221.4" cy="290.1" r="3.25"/>
<circle class="P" cx="191.5" cy="296.3" r="3.25"/>
<circle class="P" cx="235.6" cy="290.1" r="3.25"/>
<circle class="P" cx="192.6" cy="248.4" r="3.25"/>
<circle class="P" cx="222.8" cy="260.8" r="3.25"/>
<circle class="M" cx="248.9" cy="165.8" r="3.25"/>
<circle class="M" cx="279.2" cy="201.9" r="3.25"/>
<circle class="M" cx="211.6" cy="207.5" r="3.25"/>
<circle class="M" cx="287.2" cy="215.1" r="3.25"/>
<circle class="M" cx="297.0" cy="170.2" r="3.25"/>
<circle class="M" cx="308.3" cy="175.6" r="3.25"/>
<circle class="M" cx="323.6" cy="197.8" r="3.25"/>
<circle class="M" cx="337.1" cy="197.2" r="3.25"/>
<circle class="M" cx="297.6" cy="202.6" r="3.25"/>
<circle class="M" cx="300.2" cy="221.6" r="3.25"/>
<circle class="M" cx="240.0" cy="239.6" r="3.25"/>
<circle class="M" cx="282.1" cy="229.4" r="3.25"/>
<circle class="M" cx="241.9" cy="250.1" r="3.25"/>
<circle class="M" cx="283.3" cy="255.0" r="3.25"/>
<circle class="M" cx="286.5" cy="251.3" r="3.25"/>
<circle class="M" cx="282.1" cy="248.4" r="3.25"/>
<circle class="M" cx="284.7" cy="276.2" r="3.25"/>
<circle class="M" cx="280.6" cy="291.5" r="3.25"/>
<circle class="M" cx="244.8" cy="288.6" r="3.25"/>
<circle class="M" cx="246.3" cy="295.9" r="3.25"/>
<circle class="M" cx="292.2" cy="241.1" r="3.25"/>
<circle class="M" cx="292.2" cy="246.9" r="3.25"/>
<circle class="M" cx="301.0" cy="246.9" r="3.25"/>
<circle class="M" cx="290.4" cy="252.0" r="3.25"/>
<circle class="M" cx="315.3" cy="240.4" r="3.25"/>
<circle class="M" cx="333.1" cy="241.1" r="3.25"/>
<circle class="M" cx="331.2" cy="246.2" r="3.25"/>
<circle class="M" cx="358.4" cy="233.5" r="3.25"/>
<circle class="M" cx="307.5" cy="262.7" r="3.25"/>
<circle class="M" cx="313.7" cy="260.8" r="3.25"/>
<circle class="M" cx="321.9" cy="264.5" r="3.25"/>
<circle class="M" cx="328.3" cy="257.9" r="3.25"/>
<circle class="M" cx="295.1" cy="268.9" r="3.25"/>
<circle class="M" cx="291.5" cy="271.1" r="3.25"/>
<circle class="M" cx="307.5" cy="279.1" r="3.25"/>
<circle class="M" cx="316.0" cy="283.5" r="3.25"/>
<circle class="M" cx="341.2" cy="279.1" r="3.25"/>
<circle class="M" cx="332.7" cy="282.0" r="3.25"/>
<circle class="M" cx="341.2" cy="286.4" r="3.25"/>
<circle class="M" cx="328.7" cy="285.7" r="3.25"/>
<circle class="M" cx="323.6" cy="289.3" r="3.25"/>
<circle class="M" cx="309.0" cy="288.6" r="3.25"/>
<circle class="M" cx="293.7" cy="284.9" r="3.25"/>
<circle class="M" cx="296.6" cy="290.1" r="3.25"/>
<circle class="M" cx="301.7" cy="292.5" r="3.25"/>
<circle class="M" cx="108.3" cy="338.3" r="3.25"/>
<circle class="M" cx="145.0" cy="332.4" r="3.25"/>
<circle class="M" cx="121.1" cy="339.2" r="3.25"/>
<circle class="M" cx="104.3" cy="344.6" r="3.25"/>
<circle class="M" cx="132.4" cy="342.1" r="3.25"/>
<circle class="M" cx="135.3" cy="354.8" r="3.25"/>
<circle class="M" cx="102.9" cy="355.6" r="3.25"/>
<circle class="M" cx="159.0" cy="339.5" r="3.25"/>
<circle class="M" cx="168.0" cy="332.0" r="3.25"/>
<circle class="M" cx="171.9" cy="335.1" r="3.25"/>
<circle class="M" cx="173.3" cy="340.2" r="3.25"/>
<circle class="M" cx="182.4" cy="334.6" r="3.25"/>
<circle class="M" cx="159.4" cy="349.0" r="3.25"/>
<circle class="M" cx="181.4" cy="357.5" r="3.25"/>
<circle class="M" cx="161.9" cy="370.9" r="3.25"/>
<circle class="M" cx="186.5" cy="367.3" r="3.25"/>
<circle class="M" cx="185.8" cy="372.4" r="3.25"/>
<circle class="M" cx="218.5" cy="314.6" r="3.25"/>
<circle class="M" cx="237.5" cy="319.0" r="3.25"/>
<circle class="M" cx="243.4" cy="318.3" r="3.25"/>
<circle class="M" cx="241.5" cy="322.7" r="3.25"/>
<circle class="M" cx="197.0" cy="321.9" r="3.25"/>
<circle class="M" cx="204.6" cy="320.8" r="3.25"/>
<circle class="M" cx="201.0" cy="330.0" r="3.25"/>
<circle class="M" cx="212.7" cy="339.5" r="3.25"/>
<circle class="M" cx="229.5" cy="344.6" r="3.25"/>
<circle class="M" cx="199.9" cy="339.2" r="3.25"/>
<circle class="M" cx="203.2" cy="347.5" r="3.25"/>
<circle class="M" cx="202.9" cy="344.6" r="3.25"/>
<circle class="M" cx="224.4" cy="353.4" r="3.25"/>
<circle class="M" cx="248.5" cy="328.5" r="3.25"/>
<circle class="M" cx="253.2" cy="333.6" r="3.25"/>
<circle class="M" cx="250.2" cy="345.0" r="3.25"/>
<circle class="M" cx="254.3" cy="349.0" r="3.25"/>
<circle class="M" cx="257.5" cy="351.2" r="3.25"/>
<circle class="M" cx="261.9" cy="343.1" r="3.25"/>
<circle class="M" cx="234.3" cy="356.7" r="3.25"/>
<circle class="M" cx="246.3" cy="363.6" r="3.25"/>
<circle class="M" cx="239.0" cy="368.0" r="3.25"/>
<circle class="M" cx="217.8" cy="365.1" r="3.25"/>
<circle class="M" cx="280.9" cy="338.7" r="3.25"/>
<circle class="M" cx="281.4" cy="348.0" r="3.25"/>
<circle class="M" cx="289.7" cy="350.2" r="3.25"/>
<circle class="M" cx="285.3" cy="356.7" r="3.25"/>
<circle class="M" cx="288.7" cy="364.3" r="3.25"/>
<circle class="M" cx="285.0" cy="372.4" r="3.25"/>
<circle class="M" cx="266.0" cy="371.6" r="3.25"/>
<circle class="M" cx="263.8" cy="373.1" r="3.25"/>
<circle class="M" cx="236.1" cy="373.1" r="3.25"/>
<circle class="M" cx="339.7" cy="365.6" r="3.25"/>
<circle class="M" cx="154.6" cy="378.9" r="3.25"/>
<circle class="M" cx="185.3" cy="384.9" r="3.25"/>
<circle class="M" cx="189.4" cy="388.5" r="3.25"/>
<circle class="M" cx="133.1" cy="394.7" r="3.25"/>
<circle class="M" cx="135.0" cy="392.5" r="3.25"/>
<circle class="M" cx="140.0" cy="398.7" r="3.25"/>
<circle class="M" cx="148.0" cy="397.4" r="3.25"/>
<circle class="M" cx="147.3" cy="404.2" r="3.25"/>
<circle class="M" cx="154.3" cy="402.8" r="3.25"/>
<circle class="M" cx="119.2" cy="410.4" r="3.25"/>
<circle class="M" cx="130.2" cy="422.1" r="3.25"/>
<circle class="M" cx="147.0" cy="418.9" r="3.25"/>
<circle class="M" cx="151.1" cy="425.4" r="3.25"/>
<circle class="M" cx="104.6" cy="426.9" r="3.25"/>
<circle class="M" cx="106.4" cy="426.2" r="3.25"/>
<circle class="M" cx="180.6" cy="414.8" r="3.25"/>
<circle class="M" cx="177.3" cy="419.2" r="3.25"/>
<circle class="M" cx="198.0" cy="378.7" r="3.25"/>
<circle class="M" cx="236.1" cy="376.2" r="3.25"/>
<circle class="M" cx="192.9" cy="387.9" r="3.25"/>
<circle class="M" cx="218.9" cy="389.9" r="3.25"/>
<circle class="M" cx="232.4" cy="398.4" r="3.25"/>
<circle class="M" cx="247.0" cy="398.7" r="3.25"/>
<circle class="M" cx="262.7" cy="398.4" r="3.25"/>
<circle class="M" cx="257.0" cy="383.8" r="3.25"/>
<circle class="M" cx="263.1" cy="377.9" r="3.25"/>
<circle class="M" cx="268.9" cy="381.1" r="3.25"/>
<circle class="M" cx="279.5" cy="383.5" r="3.25"/>
<circle class="M" cx="283.6" cy="378.7" r="3.25"/>
<circle class="M" cx="287.2" cy="376.2" r="3.25"/>
<circle class="M" cx="214.6" cy="406.9" r="3.25"/>
<circle class="M" cx="201.0" cy="418.6" r="3.25"/>
<circle class="M" cx="195.1" cy="422.1" r="3.25"/>
<circle class="M" cx="267.2" cy="417.1" r="3.25"/>
<circle class="M" cx="275.2" cy="421.8" r="3.25"/>
<circle class="M" cx="294.4" cy="407.2" r="3.25"/>
<circle class="M" cx="309.0" cy="409.8" r="3.25"/>
<circle class="M" cx="351.1" cy="400.1" r="3.25"/>
<circle class="M" cx="335.3" cy="414.2" r="3.25"/>
<circle class="M" cx="337.1" cy="427.9" r="3.25"/>
<circle class="M" cx="292.2" cy="423.0" r="3.25"/>
<circle class="M" cx="538.9" cy="114.8" r="3.25"/>
<circle class="M" cx="160.4" cy="229.7" r="3.25"/>
<circle class="M" cx="171.0" cy="230.1" r="3.25"/>
<circle class="M" cx="167.4" cy="234.9" r="3.25"/>
<circle class="M" cx="189.3" cy="249.1" r="3.25"/>
<circle class="M" cx="148.8" cy="242.2" r="3.25"/>
<circle class="M" cx="148.8" cy="248.0" r="3.25"/>
<circle class="M" cx="141.1" cy="244.3" r="3.25"/>
<circle class="M" cx="159.0" cy="244.7" r="3.25"/>
<circle class="M" cx="146.6" cy="254.2" r="3.25"/>
<circle class="M" cx="139.3" cy="257.1" r="3.25"/>
<circle class="M" cx="159.3" cy="256.0" r="3.25"/>
<circle class="M" cx="168.1" cy="257.5" r="3.25"/>
<circle class="M" cx="136.4" cy="227.6" r="3.25"/>
<circle class="M" cx="137.8" cy="244.1" r="3.25"/>
<circle class="M" cx="128.0" cy="253.1" r="3.25"/>
<circle class="M" cx="133.6" cy="251.4" r="3.25"/>
<circle class="M" cx="118.1" cy="256.0" r="3.25"/>
<circle class="M" cx="119.6" cy="268.2" r="3.25"/>
<circle class="M" cx="128.3" cy="269.7" r="3.25"/>
<circle class="M" cx="122.1" cy="280.6" r="3.25"/>
<circle class="M" cx="126.5" cy="284.6" r="3.25"/>
<circle class="M" cx="119.2" cy="289.4" r="3.25"/>
<circle class="M" cx="130.1" cy="289.4" r="3.25"/>
<circle class="M" cx="136.7" cy="291.2" r="3.25"/>
<circle class="M" cx="115.0" cy="295.1" r="3.25"/>
<circle class="M" cx="122.7" cy="294.9" r="3.25"/>
<circle class="M" cx="126.5" cy="293.4" r="3.25"/>
<circle class="M" cx="174.3" cy="264.9" r="3.25"/>
<circle class="M" cx="160.4" cy="266.0" r="3.25"/>
<circle class="M" cx="146.2" cy="270.8" r="3.25"/>
<circle class="M" cx="165.2" cy="271.9" r="3.25"/>
<circle class="M" cx="176.5" cy="275.1" r="3.25"/>
<circle class="M" cx="187.4" cy="271.5" r="3.25"/>
<circle class="M" cx="190.2" cy="277.9" r="3.25"/>
<circle class="M" cx="144.7" cy="277.7" r="3.25"/>
<circle class="M" cx="161.2" cy="280.6" r="3.25"/>
<circle class="M" cx="164.1" cy="280.6" r="3.25"/>
<circle class="M" cx="164.8" cy="285.4" r="3.25"/>
<circle class="M" cx="183.1" cy="284.6" r="3.25"/>
<circle class="M" cx="187.4" cy="289.7" r="3.25"/>
<circle class="M" cx="143.6" cy="288.6" r="3.25"/>
<circle class="M" cx="149.1" cy="295.5" r="3.25"/>
<circle class="M" cx="161.2" cy="191.7" r="3.25"/>
<circle class="M" cx="161.9" cy="214.7" r="3.25"/>
<circle class="M" cx="181.6" cy="211.8" r="3.25"/>
<circle class="M" cx="159.0" cy="221.3" r="3.25"/>
<circle class="M" cx="146.9" cy="220.6" r="3.25"/>
<circle class="M" cx="167.0" cy="156.9" r="3.25"/>
<circle class="M" cx="178.0" cy="182.5" r="3.25"/>
<circle class="M" cx="316.8" cy="297.2" r="3.25"/>
<circle class="M" cx="338.4" cy="296.5" r="3.25"/>
<circle class="M" cx="345.7" cy="299.0" r="3.25"/>
<circle class="M" cx="335.8" cy="303.8" r="3.25"/>
<circle class="M" cx="325.9" cy="310.7" r="3.25"/>
<circle class="M" cx="314.6" cy="310.1" r="3.25"/>
<circle class="M" cx="319.7" cy="314.3" r="3.25"/>
<circle class="M" cx="328.5" cy="316.9" r="3.25"/>
<circle class="M" cx="323.0" cy="320.2" r="3.25"/>
<circle class="M" cx="335.1" cy="321.3" r="3.25"/>
<circle class="M" cx="322.3" cy="328.2" r="3.25"/>
<circle class="M" cx="315.7" cy="319.8" r="3.25"/>
<circle class="M" cx="308.2" cy="336.4" r="3.25"/>
<circle class="M" cx="303.1" cy="337.5" r="3.25"/>
<circle class="M" cx="312.6" cy="337.8" r="3.25"/>
<circle class="M" cx="316.3" cy="336.0" r="3.25"/>
<circle class="M" cx="325.0" cy="333.8" r="3.25"/>
<circle class="M" cx="292.2" cy="341.9" r="3.25"/>
<circle class="M" cx="305.7" cy="345.9" r="3.25"/>
<circle class="M" cx="317.7" cy="346.6" r="3.25"/>
<circle class="M" cx="313.4" cy="347.7" r="3.25"/>
<circle class="M" cx="323.2" cy="346.6" r="3.25"/>
<circle class="M" cx="336.7" cy="349.9" r="3.25"/>
<circle class="M" cx="295.8" cy="353.9" r="3.25"/>
<circle class="M" cx="303.9" cy="354.6" r="3.25"/>
<circle class="M" cx="313.4" cy="353.9" r="3.25"/>
<circle class="M" cx="296.6" cy="359.7" r="3.25"/>
<circle class="M" cx="308.2" cy="361.6" r="3.25"/>
<circle class="M" cx="317.0" cy="360.1" r="3.25"/>
<circle class="M" cx="333.8" cy="358.3" r="3.25"/>
<circle class="M" cx="280.3" cy="297.6" r="3.25"/>
<circle class="M" cx="269.7" cy="315.8" r="3.25"/>
<circle class="M" cx="276.3" cy="324.9" r="3.25"/>
<circle class="M" cx="293.1" cy="299.0" r="3.25"/>
<circle class="M" cx="298.6" cy="296.1" r="3.25"/>
<circle class="M" cx="300.8" cy="304.1" r="3.25"/>
<circle class="M" cx="306.2" cy="301.9" r="3.25"/>
<circle class="M" cx="294.2" cy="308.9" r="3.25"/>
<circle class="M" cx="307.0" cy="309.2" r="3.25"/>
<circle class="M" cx="313.5" cy="297.2" r="3.25"/>
<circle class="M" cx="309.5" cy="322.7" r="3.25"/>
<circle class="M" cx="312.4" cy="319.1" r="3.25"/>
<circle class="M" cx="300.8" cy="328.6" r="3.25"/>
<circle class="M" cx="310.3" cy="328.6" r="3.25"/>
<circle class="M" cx="117.7" cy="301.9" r="3.25"/>
<circle class="M" cx="122.8" cy="301.9" r="3.25"/>
<circle class="M" cx="133.8" cy="303.8" r="3.25"/>
<circle class="M" cx="138.2" cy="300.1" r="3.25"/>
<circle class="M" cx="136.7" cy="308.5" r="3.25"/>
<circle class="M" cx="118.8" cy="312.2" r="3.25"/>
<circle class="M" cx="127.6" cy="308.5" r="3.25"/>
<circle class="M" cx="124.3" cy="310.0" r="3.25"/>
<circle class="M" cx="132.0" cy="312.5" r="3.25"/>
<circle class="M" cx="110.8" cy="317.3" r="3.25"/>
<circle class="M" cx="113.7" cy="317.6" r="3.25"/>
<circle class="M" cx="121.8" cy="318.4" r="3.25"/>
<circle class="M" cx="128.7" cy="319.1" r="3.25"/>
<circle class="M" cx="140.0" cy="322.2" r="3.25"/>
<circle class="M" cx="111.5" cy="326.0" r="3.25"/>
<circle class="M" cx="142.2" cy="301.2" r="3.25"/>
<circle class="M" cx="153.1" cy="296.8" r="3.25"/>
<circle class="M" cx="152.0" cy="304.1" r="3.25"/>
<circle class="M" cx="159.7" cy="300.5" r="3.25"/>
<circle class="M" cx="165.2" cy="299.4" r="3.25"/>
<circle class="M" cx="169.9" cy="299.0" r="3.25"/>
<circle class="M" cx="164.1" cy="307.4" r="3.25"/>
<circle class="M" cx="161.2" cy="305.9" r="3.25"/>
<circle class="M" cx="167.0" cy="305.2" r="3.25"/>
<circle class="M" cx="172.8" cy="304.1" r="3.25"/>
<circle class="M" cx="145.8" cy="306.7" r="3.25"/>
<circle class="M" cx="153.5" cy="309.2" r="3.25"/>
<circle class="M" cx="141.8" cy="308.9" r="3.25"/>
<circle class="M" cx="145.8" cy="312.2" r="3.25"/>
<circle class="M" cx="152.0" cy="314.0" r="3.25"/>
<circle class="M" cx="151.7" cy="319.5" r="3.25"/>
<circle class="M" cx="173.6" cy="323.5" r="3.25"/>
<circle class="M" cx="171.0" cy="319.8" r="3.25"/>
<circle class="M" cx="174.3" cy="328.2" r="3.25"/>
<circle class="M" cx="182.3" cy="308.9" r="3.25"/>
<circle class="M" cx="187.1" cy="313.2" r="3.25"/>
<circle class="M" cx="181.6" cy="321.6" r="3.25"/>
<circle class="M" cx="187.8" cy="320.5" r="3.25"/>
<circle class="M" cx="186.7" cy="328.2" r="3.25"/>
<circle class="M" cx="292.9" cy="367.2" r="3.25"/>
<circle class="M" cx="302.4" cy="367.2" r="3.25"/>
<circle class="M" cx="298.0" cy="373.0" r="3.25"/>
<circle class="M" cx="312.6" cy="370.8" r="3.25"/>
<circle class="M" cx="304.6" cy="373.0" r="3.25"/>
<circle class="M" cx="293.6" cy="376.7" r="3.25"/>
<circle class="M" cx="303.1" cy="379.6" r="3.25"/>
<circle class="M" cx="297.3" cy="381.8" r="3.25"/>
<circle class="M" cx="298.8" cy="385.8" r="3.25"/>
<circle class="M" cx="292.9" cy="385.8" r="3.25"/>
<circle class="M" cx="313.4" cy="376.3" r="3.25"/>
<circle class="M" cx="324.3" cy="365.7" r="3.25"/>
<circle class="M" cx="321.4" cy="367.9" r="3.25"/>
<circle class="M" cx="319.6" cy="374.1" r="3.25"/>
<circle class="M" cx="326.9" cy="374.9" r="3.25"/>
<circle class="M" cx="335.3" cy="375.2" r="3.25"/>
<circle class="M" cx="320.3" cy="381.4" r="3.25"/>
<circle class="M" cx="315.2" cy="384.0" r="3.25"/>
<circle class="M" cx="325.8" cy="384.7" r="3.25"/>
<circle class="M" cx="327.2" cy="389.8" r="3.25"/>
<circle class="M" cx="319.2" cy="392.0" r="3.25"/>
<circle class="M" cx="324.3" cy="395.7" r="3.25"/>
<circle class="M" cx="192.2" cy="267.5" r="3.25"/>
<circle class="M" cx="209.3" cy="271.5" r="3.25"/>
<circle class="M" cx="233.8" cy="262.4" r="3.25"/>
<circle class="M" cx="196.9" cy="277.7" r="3.25"/>
<circle class="M" cx="204.6" cy="279.5" r="3.25"/>
<circle class="M" cx="194.4" cy="288.3" r="3.25"/>
<circle class="M" cx="199.9" cy="287.9" r="3.25"/>
<circle class="M" cx="222.5" cy="283.5" r="3.25"/>
<circle class="M" cx="213.0" cy="287.2" r="3.25"/>
<circle class="M" cx="199.5" cy="295.6" r="3.25"/>
<circle class="M" cx="216.3" cy="250.9" r="3.25"/>
</g>
<line x1="101.9" y1="265.3" x2="633.2" y2="289.3" stroke="#000" stroke-width="2"/>
<rect x="519.8" y="10.9" width="153.1" height="125.7" rx="3.5" fill="#fff" fill-opacity="0.8" stroke="#333" stroke-width="1.3"/>
<g font-size="16.5">
<circle class="B" cx="543" cy="25.7" r="3.25" stroke-width="1.5"/>
<text x="573.4" y="30.3">Baroque</text>
<circle class="C" cx="543" cy="50.0" r="3.25" stroke-width="1.5"/>
<text x="573.4" y="54.6">Classical</text>
<circle class="R" cx="543" cy="74.3" r="3.25" stroke-width="1.5"/>
<text x="573.4" y="78.9">Romantic</text>
<circle class="P" cx="543" cy="98.6" r="3.25" stroke-width="1.5"/>
<text x="573.4" y="103.2">Post-romantic</text>
<circle class="M" cx="543" cy="122.9" r="3.25" stroke-width="1.5"/>
<text x="573.4" y="127.5">Modern</text>
</g>
<rect x="78.5" y="3" width="603" height="452" fill="none" stroke="#000" stroke-width="2"/>
<g font-size="24.4" fill="#000">
<line x1="121.2" y1="455" x2="121.2" y2="458.5" stroke="#000" stroke-width="1"/>
<text x="121.2" y="479.1" text-anchor="middle">2.6</text>
<line x1="207.4" y1="455" x2="207.4" y2="458.5" stroke="#000" stroke-width="1"/>
<text x="207.4" y="479.1" text-anchor="middle">2.7</text>
<line x1="293.5" y1="455" x2="293.5" y2="458.5" stroke="#000" stroke-width="1"/>
<text x="293.5" y="479.1" text-anchor="middle">2.8</text>
<line x1="379.7" y1="455" x2="379.7" y2="458.5" stroke="#000" stroke-width="1"/>
<text x="379.7" y="479.1" text-anchor="middle">2.9</text>
<line x1="465.9" y1="455" x2="465.9" y2="458.5" stroke="#000" stroke-width="1"/>
<text x="465.9" y="479.1" text-anchor="middle">3.0</text>
<line x1="552.1" y1="455" x2="552.1" y2="458.5" stroke="#000" stroke-width="1"/>
<text x="552.1" y="479.1" text-anchor="middle">3.1</text>
<line x1="638.2" y1="455" x2="638.2" y2="458.5" stroke="#000" stroke-width="1"/>
<text x="638.2" y="479.1" text-anchor="middle">3.2</text>
<line x1="75" y1="435.0" x2="78.5" y2="435.0" stroke="#000" stroke-width="1"/>
<text x="72.0" y="443.9" text-anchor="end">0</text>
<line x1="75" y1="332.1" x2="78.5" y2="332.1" stroke="#000" stroke-width="1"/>
<text x="70.8" y="341.0" text-anchor="end">0.05</text>
<line x1="75" y1="229.2" x2="78.5" y2="229.2" stroke="#000" stroke-width="1"/>
<text x="70.2" y="238.2" text-anchor="end">0.1</text>
<line x1="75" y1="126.4" x2="78.5" y2="126.4" stroke="#000" stroke-width="1"/>
<text x="70.8" y="135.3" text-anchor="end">0.15</text>
<line x1="75" y1="23.5" x2="78.5" y2="23.5" stroke="#000" stroke-width="1"/>
<text x="71.5" y="32.4" text-anchor="end">0.2</text>
</g>
<text x="379.3" y="505" font-size="24.6" text-anchor="middle">Novelty</text>
<text transform="translate(21.0,230.1) rotate(-90)" font-size="25" text-anchor="middle">Influence</text>
</svg>
</body></html>
